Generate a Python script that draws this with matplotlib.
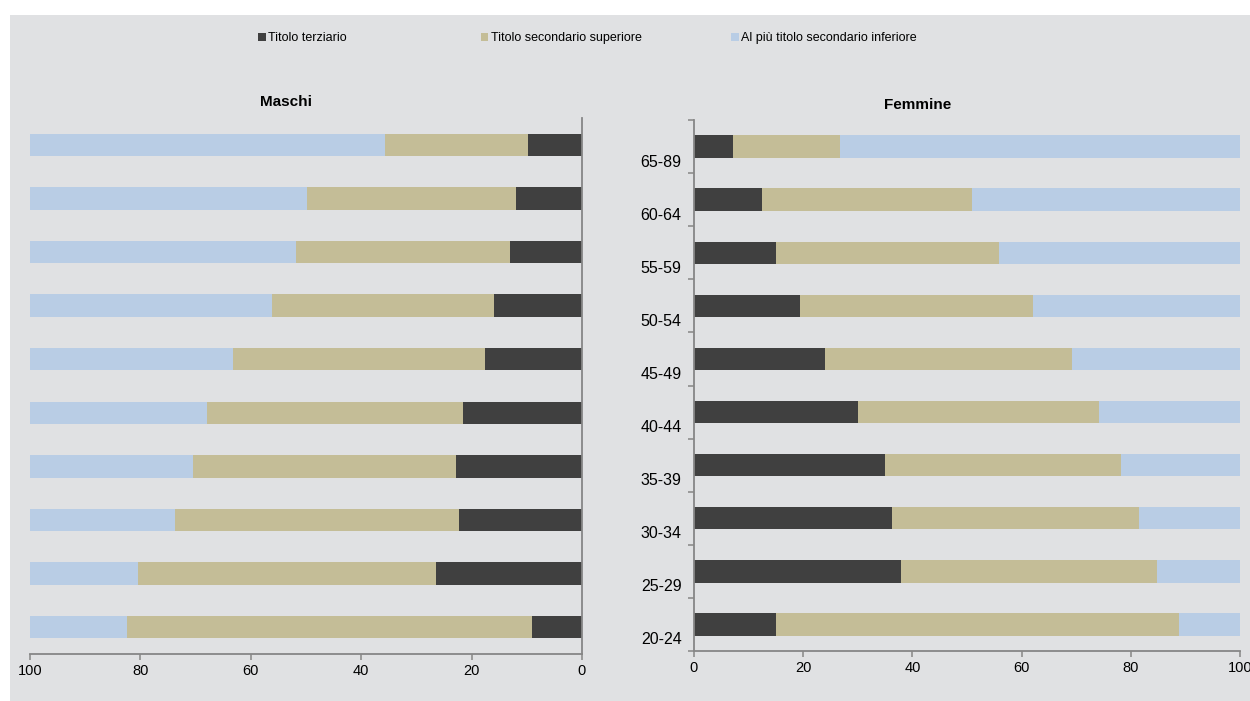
import matplotlib
matplotlib.use('Agg')
import matplotlib.pyplot as plt
import numpy as np
from matplotlib.patches import Rectangle
from matplotlib.transforms import ScaledTranslation

plt.rcParams['font.family'] = ['Liberation Sans', 'DejaVu Sans']

ages = ['20-24', '25-29', '30-34', '35-39', '40-44', '45-49', '50-54', '55-59', '60-64', '65-89']
series = ['Titolo terziario', 'Titolo secondario superiore', 'Al più titolo secondario inferiore']

# percentuali, dal basso (20-24) all'alto (65-89)
m_terz = [9.0, 26.4, 22.3, 22.8, 21.6, 17.5, 15.9, 13.0, 11.9, 9.8]
m_sec = [73.5, 54.1, 51.4, 47.6, 46.4, 45.7, 40.3, 38.9, 38.0, 25.8]
m_inf = [17.5, 19.5, 26.3, 29.6, 32.0, 36.8, 43.8, 48.1, 50.1, 64.4]

f_terz = [15.0, 37.9, 36.3, 35.0, 30.1, 24.0, 19.5, 15.0, 12.5, 7.2]
f_sec = [73.8, 46.9, 45.2, 43.2, 44.1, 45.3, 42.5, 40.8, 38.5, 19.6]
f_inf = [11.2, 15.2, 18.5, 21.8, 25.8, 30.7, 38.0, 44.2, 49.0, 73.2]

colors = ['#404040', '#c4bd97', '#b9cde5']
bg = '#e0e1e3'
axcol = '#868686'

fig = plt.figure(figsize=(12.5, 7.01), dpi=100)
fig.patch.set_facecolor('white')
fig.add_artist(Rectangle((10/1250, 0), 1 - 10/1250, 1 - 15/701,
                         transform=fig.transFigure, facecolor=bg, edgecolor='none', zorder=-10))

axm = fig.add_axes([30/1250, 47/701, 552/1250, 536/701])
axf = fig.add_axes([694/1250, 50/701, 546/1250, 531/701])

y = np.arange(len(ages))
h = 0.42


def draw(ax, vals):
    left = np.zeros(len(ages))
    bars = []
    for v, c in zip(vals, colors):
        b = ax.barh(y, v, left=left, height=h, color=c, edgecolor='none')
        bars.append(b)
        left = left + np.array(v)
    ax.set_facecolor('none')
    ax.set_ylim(-0.5, len(ages) - 0.5)
    ax.set_xticks(np.arange(0, 101, 20))
    ax.tick_params(axis='x', colors=axcol, labelcolor='black', labelsize=10.5, length=4, width=1.1, pad=3)
    for s in ax.spines.values():
        s.set_color(axcol)
        s.set_linewidth(1.3)
    ax.spines['top'].set_visible(False)
    return bars


bars = draw(axm, [m_terz, m_sec, m_inf])
axm.set_xlim(100, 0)
axm.spines['left'].set_visible(False)
axm.set_yticks([])
axm.set_title('Maschi', fontsize=11, fontweight='bold', x=0.464, pad=9)

draw(axf, [f_terz, f_sec, f_inf])
axf.set_xlim(0, 100)
axf.spines['right'].set_visible(False)
axf.set_yticks(y)
axf.set_yticklabels(ages, fontsize=11.5)
axf.set_yticks(np.arange(-0.5, len(ages), 1), minor=True)
axf.tick_params(axis='y', which='major', length=0, pad=9)
axf.tick_params(axis='y', which='minor', length=4, width=1.1, colors=axcol)
off = ScaledTranslation(0, -14/100, fig.dpi_scale_trans)
for lab in axf.get_yticklabels():
    lab.set_transform(lab.get_transform() + off)
axf.set_title('Femmine', fontsize=11, fontweight='bold', x=0.41, pad=8)

# legenda
pos = [258, 481, 731]
for b, name, px in zip(bars, series, pos):
    fig.legend([b], [name], loc='center left', bbox_to_anchor=(px/1250, 1 - 38/701),
               frameon=False, fontsize=9, handlelength=0.6, handleheight=0.6,
               handletextpad=0.2, borderpad=0, borderaxespad=0)

fig.savefig('out.png', dpi=100)
